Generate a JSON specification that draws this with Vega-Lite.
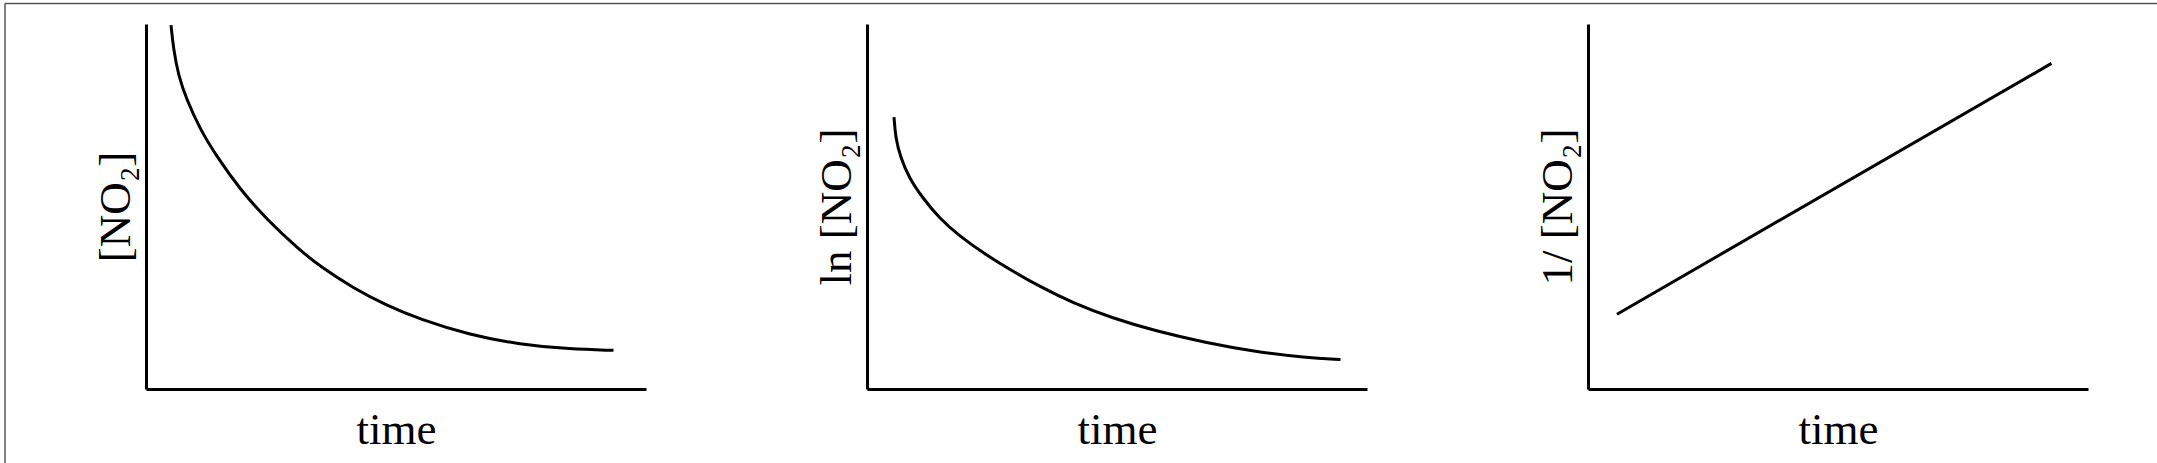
{
  "$schema": "https://vega.github.io/schema/vega-lite/v6.json",
  "padding": {"left": 4, "top": 2, "right": 0, "bottom": 0},
  "spacing": 221,
  "bounds": "flush",
  "datasets": {
    "c1": [
      {"t": 5.0, "v": 99.7}, {"t": 5.5, "v": 93.1}, {"t": 6.5, "v": 85.8}, {"t": 8.1, "v": 79.4},
      {"t": 10.8, "v": 71.2}, {"t": 14.1, "v": 63.8}, {"t": 18.8, "v": 54.7}, {"t": 24.1, "v": 46.5},
      {"t": 30.8, "v": 38.0}, {"t": 34.8, "v": 33.6}, {"t": 41.5, "v": 27.6}, {"t": 48.1, "v": 22.9},
      {"t": 54.8, "v": 19.1}, {"t": 64.8, "v": 14.8}, {"t": 74.8, "v": 12.2}, {"t": 84.8, "v": 10.9},
      {"t": 93.5, "v": 10.6}
    ],
    "c2": [
      {"t": 5.4, "v": 74.5}, {"t": 5.7, "v": 68.9}, {"t": 6.7, "v": 63.4}, {"t": 8.4, "v": 57.9},
      {"t": 11.1, "v": 52.4}, {"t": 14.4, "v": 46.9}, {"t": 18.4, "v": 42.0}, {"t": 23.7, "v": 36.8},
      {"t": 29.7, "v": 31.8}, {"t": 34.4, "v": 28.2}, {"t": 41.1, "v": 23.6}, {"t": 49.1, "v": 19.4},
      {"t": 57.7, "v": 15.9}, {"t": 67.7, "v": 12.7}, {"t": 77.7, "v": 10.2}, {"t": 87.7, "v": 8.6},
      {"t": 94.7, "v": 8.1}
    ],
    "c3": [
      {"t": 5.8, "v": 20.5}, {"t": 92.7, "v": 89.2}
    ],
    "frame": [
      {"x": -28.2, "x2": -28.2, "y": 105.6, "y2": -20.5},
      {"x": -28.2, "x2": 402.2, "y": 105.6, "y2": 105.6}
    ]
  },
  "hconcat": [
    {
      "width": 500,
      "height": 365,
      "layer": [
        {
          "data": {"name": "frame"},
          "mark": {"type": "rule", "color": "#555555", "strokeWidth": 1.5, "clip": false},
          "encoding": {
            "x": {"field": "x", "type": "quantitative", "scale": {"domain": [0, 100], "nice": false, "zero": false}},
            "x2": {"field": "x2"},
            "y": {"field": "y", "type": "quantitative", "scale": {"domain": [0, 100], "nice": false, "zero": false}},
            "y2": {"field": "y2"}
          }
        },
        {
          "data": {"name": "c1"},
          "mark": {"type": "line", "interpolate": "basis", "color": "black", "strokeWidth": 3},
          "encoding": {
            "x": {"field": "t", "type": "quantitative", "title": "time"},
            "y": {"field": "v", "type": "quantitative", "title": "[NO₂]"}
          }
        }
      ]
    },
    {
      "width": 500,
      "height": 365,
      "data": {"name": "c2"},
      "mark": {"type": "line", "interpolate": "basis", "color": "black", "strokeWidth": 3},
      "encoding": {
        "x": {"field": "t", "type": "quantitative", "title": "time", "scale": {"domain": [0, 100], "nice": false, "zero": false}},
        "y": {"field": "v", "type": "quantitative", "title": "ln [NO₂]", "scale": {"domain": [0, 100], "nice": false, "zero": false}}
      }
    },
    {
      "width": 500,
      "height": 365,
      "data": {"name": "c3"},
      "mark": {"type": "line", "color": "black", "strokeWidth": 3},
      "encoding": {
        "x": {"field": "t", "type": "quantitative", "title": "time", "scale": {"domain": [0, 100], "nice": false, "zero": false}},
        "y": {"field": "v", "type": "quantitative", "title": "1/ [NO₂]", "scale": {"domain": [0, 100], "nice": false, "zero": false}}
      }
    }
  ],
  "config": {
    "view": {"stroke": null},
    "axis": {
      "grid": false,
      "ticks": false,
      "labels": false,
      "domainColor": "black",
      "domainWidth": 3,
      "titleFont": "Liberation Serif",
      "titleFontSize": 45,
      "titleFontWeight": "normal",
      "titleColor": "black"
    },
    "axisX": {"titlePadding": 18},
    "axisY": {"titlePadding": 8}
  }
}
